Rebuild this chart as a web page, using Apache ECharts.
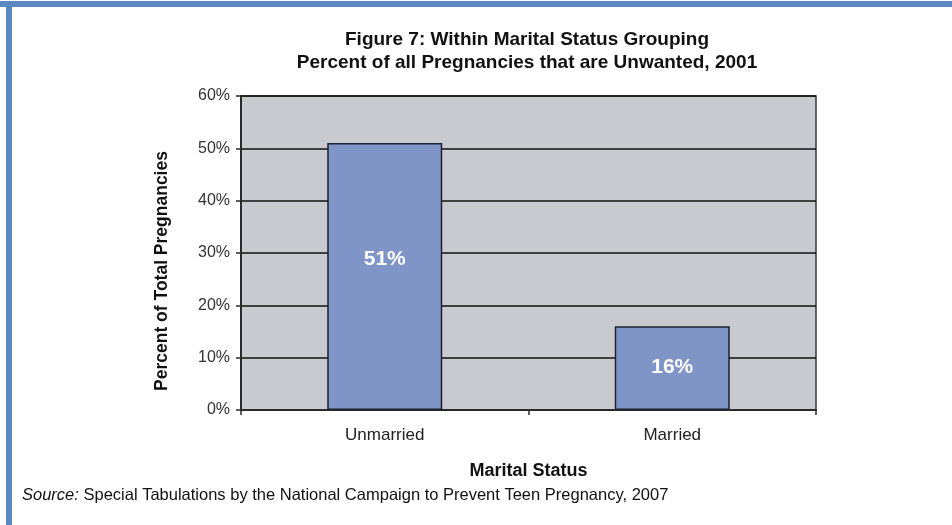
<!DOCTYPE html>
<html>
<head>
<meta charset="utf-8">
<script src="https://cdn.jsdelivr.net/npm/echarts@6/dist/echarts.min.js"></script>
<style>
  html, body { margin: 0; padding: 0; background: #ffffff; }
  #chart { width: 952px; height: 525px; }
</style>
</head>
<body>
<div id="chart"></div>
<script>
// Unwanted pregnancies by marital status, 2001
const categories = ['Unmarried', 'Married'];
const values = [51, 16];
const yTicks = [0, 10, 20, 30, 40, 50, 60];

const FONT = '"Liberation Sans", Arial, Helvetica, sans-serif';
const chart = echarts.init(document.getElementById('chart'), null, { renderer: 'canvas' });

// Value label offsets per bar (the taller bar's label sits a bit above its middle)
const labelOffsets = [[0, -17], [0, -1]];

const option = {
  backgroundColor: '#ffffff',
  animation: false,
  title: {
    text: 'Figure 7: Within Marital Status Grouping\nPercent of all Pregnancies that are Unwanted, 2001',
    left: 522,
    top: 23,
    textAlign: 'center',
    textStyle: {
      fontFamily: FONT,
      fontSize: 19,
      fontWeight: 'bold',
      color: '#111111',
      lineHeight: 23
    }
  },
  grid: {
    left: 241,
    top: 96,
    width: 575,
    height: 314,
    show: true,
    backgroundColor: '#c9cacf',
    borderColor: '#3a3a3a',
    borderWidth: 1.5
  },
  xAxis: {
    type: 'category',
    data: categories,
    name: 'Marital Status',
    nameLocation: 'middle',
    nameGap: 52,
    nameTextStyle: { fontFamily: FONT, fontSize: 18, fontWeight: 'bold', color: '#111111' },
    axisLine: { show: true, lineStyle: { color: '#2a2a2a', width: 2 } },
    axisTick: { show: true, alignWithLabel: false, length: 5, lineStyle: { color: '#2a2a2a', width: 1.5 } },
    axisLabel: { fontFamily: FONT, fontSize: 17, color: '#222222', margin: 17 },
    splitLine: { show: false }
  },
  yAxis: {
    type: 'value',
    min: yTicks[0],
    max: yTicks[yTicks.length - 1],
    interval: yTicks[1] - yTicks[0],
    axisLine: { show: true, lineStyle: { color: '#2a2a2a', width: 2 } },
    axisTick: { show: true, inside: false, length: 5, lineStyle: { color: '#2a2a2a', width: 1.5 } },
    axisLabel: {
      fontFamily: FONT, fontSize: 16, color: '#333333', margin: 11,
      formatter: '{value}%'
    },
    splitLine: { show: true, lineStyle: { color: '#111111', width: 1.5 } }
  },
  series: [{
    type: 'bar',
    data: values.map((v, i) => ({
      value: v,
      label: { offset: labelOffsets[i] }
    })),
    barWidth: '40%',
    itemStyle: {
      color: '#7f95c7',
      borderColor: '#1c2230',
      borderWidth: 1.5
    },
    label: {
      show: true,
      position: 'inside',
      formatter: '{c}%',
      fontFamily: FONT,
      fontSize: 21,
      fontWeight: 'bold',
      color: '#ffffff'
    }
  }],
  graphic: [
    // frame strips along the top and left edges
    { type: 'rect', left: 0, top: 1, shape: { width: 952, height: 6 }, style: { fill: '#5a88c2' } },
    { type: 'rect', left: 6, top: 1, shape: { width: 6, height: 524 }, style: { fill: '#5a88c2' } },
    {
      type: 'text',
      x: 162,
      y: 271,
      rotation: Math.PI / 2,
      style: {
        text: 'Percent of Total Pregnancies',
        fontFamily: FONT,
        fontSize: 17.5,
        fontWeight: 'bold',
        fill: '#111111',
        align: 'center',
        verticalAlign: 'middle'
      }
    },
    {
      type: 'text',
      x: 22,
      y: 495,
      style: {
        text: '{i|Source:} Special Tabulations by the National Campaign to Prevent Teen Pregnancy, 2007',
        fontFamily: FONT,
        fontSize: 16.5,
        fill: '#111111',
        verticalAlign: 'middle',
        rich: {
          i: { fontFamily: FONT, fontSize: 16.5, fontStyle: 'italic', fill: '#111111' }
        }
      }
    }
  ]
};

chart.setOption(option);
</script>
</body>
</html>
